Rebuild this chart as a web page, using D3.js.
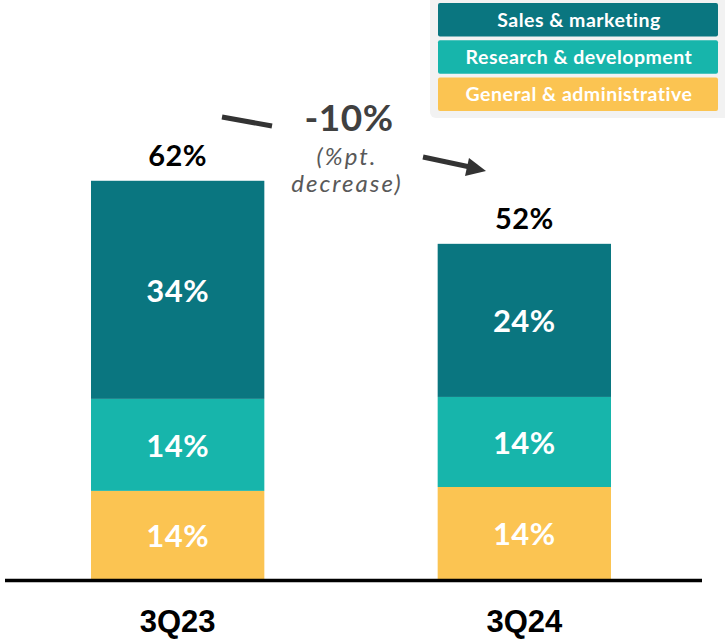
<!DOCTYPE html>
<html>
<head>
<meta charset="utf-8">
<script src="https://cdn.jsdelivr.net/npm/d3@7"></script>
<style>
  body { margin: 0; background: #fff; }
  svg { display: block; font-family: "Century Gothic", "Lato", sans-serif; }
</style>
</head>
<body>
<svg width="725" height="641"></svg>
<script>
// data
var quarters = ["3Q23", "3Q24"];
var seriesNames = ["General & administrative", "Research & development", "Sales & marketing"];
var gaValues = [13.7, 14.3];
var rdValues = [14.3, 14.0];
var smValues = [33.9, 23.8];
var totalLabels = ["62%", "52%"];
var gaLabels = ["14%", "14%"];
var rdLabels = ["14%", "14%"];
var smLabels = ["34%", "24%"];
var colors = ["#fbc452", "#17b5ab", "#0a7680"];

var svg = d3.select("svg");

var rows = quarters.map(function(q, i) {
  return { q: q, ga: gaValues[i], rd: rdValues[i], sm: smValues[i] };
});
var keys = ["ga", "rd", "sm"];
var labelSets = { ga: gaLabels, rd: rdLabels, sm: smLabels };

var x = d3.scaleBand().domain(quarters).range([91, 611]).paddingInner(0.5).paddingOuter(0);
var y = d3.scaleLinear().domain([0, 90]).range([579, 0]);

var stack = d3.stack().keys(keys)(rows);

var layer = svg.append("g").selectAll("g")
  .data(stack)
  .enter().append("g")
  .attr("fill", function(d, i) { return colors[i]; });

layer.selectAll("rect")
  .data(function(d) { return d; })
  .enter().append("rect")
  .attr("x", function(d) { return x(d.data.q); })
  .attr("y", function(d) { return y(d[1]); })
  .attr("width", x.bandwidth())
  .attr("height", function(d) { return y(d[0]) - y(d[1]); });

// segment labels
stack.forEach(function(s) {
  svg.append("g").selectAll("text")
    .data(s)
    .enter().append("text")
    .attr("x", function(d) { return x(d.data.q) + x.bandwidth() / 2; })
    .attr("y", function(d) { return (y(d[0]) + y(d[1])) / 2 + 12; })
    .attr("text-anchor", "middle")
    .attr("fill", "#fff")
    .attr("font-weight", "bold")
    .attr("font-size", 31)
    .attr("letter-spacing", 0.5)
    .text(function(d, i) { return labelSets[s.key][i]; });
});

// totals
svg.append("g").selectAll("text")
  .data(rows)
  .enter().append("text")
  .attr("x", function(d) { return x(d.q) + x.bandwidth() / 2; })
  .attr("y", function(d) { return y(d.ga + d.rd + d.sm) - 15; })
  .attr("text-anchor", "middle")
  .attr("fill", "#000")
  .attr("font-weight", "bold")
  .attr("font-size", 29)
  .attr("letter-spacing", 0.5)
  .text(function(d, i) { return totalLabels[i]; });

// baseline
svg.append("line")
  .attr("x1", 5).attr("x2", 702)
  .attr("y1", y(0) + 1.5).attr("y2", y(0) + 1.5)
  .attr("stroke", "#000")
  .attr("stroke-width", 3.5);

// category labels
svg.append("g").selectAll("text")
  .data(quarters)
  .enter().append("text")
  .attr("x", function(d) { return x(d) + x.bandwidth() / 2; })
  .attr("y", 632)
  .attr("text-anchor", "middle")
  .attr("font-family", "'Liberation Sans Narrow', 'Arial Narrow', sans-serif")
  .attr("font-weight", "bold")
  .attr("font-size", 31)
  .attr("fill", "#000")
  .text(function(d) { return d; });

// change annotation
var ann = svg.append("g");
ann.append("line")
  .attr("x1", 222).attr("y1", 117).attr("x2", 272).attr("y2", 126)
  .attr("stroke", "#333").attr("stroke-width", 5);
ann.append("line")
  .attr("x1", 423).attr("y1", 157).attr("x2", 470).attr("y2", 167)
  .attr("stroke", "#333").attr("stroke-width", 5);
ann.append("path")
  .attr("d", "M486,171 L465,176 L469,158 Z")
  .attr("fill", "#333");
ann.append("text")
  .attr("x", 349).attr("y", 131)
  .attr("text-anchor", "middle")
  .attr("font-weight", "bold")
  .attr("font-size", 37)
  .attr("letter-spacing", 0.5)
  .attr("fill", "#404040")
  .text("-10%");
ann.append("text")
  .attr("x", 347).attr("y", 165)
  .attr("text-anchor", "middle")
  .attr("font-style", "italic")
  .attr("font-size", 24)
  .attr("letter-spacing", 2)
  .attr("fill", "#595959")
  .text("(%pt.");
ann.append("text")
  .attr("x", 347).attr("y", 192)
  .attr("text-anchor", "middle")
  .attr("font-style", "italic")
  .attr("font-size", 24)
  .attr("letter-spacing", 2)
  .attr("fill", "#595959")
  .text("decrease)");

// legend
var legend = svg.append("g");
legend.append("rect")
  .attr("x", 430).attr("y", -8).attr("width", 300).attr("height", 126)
  .attr("rx", 6)
  .attr("fill", "#f2f2f2");

var legendItems = seriesNames.slice().reverse();
var legendColors = colors.slice().reverse();
var ly = d3.scaleBand().domain(legendItems).range([3, 111]).paddingInner(0.1);

legend.selectAll("rect.item")
  .data(legendItems)
  .enter().append("rect")
  .attr("class", "item")
  .attr("x", 438).attr("width", 280)
  .attr("y", function(d) { return ly(d); })
  .attr("height", ly.bandwidth())
  .attr("rx", 2)
  .attr("fill", function(d, i) { return legendColors[i]; });

legend.selectAll("text")
  .data(legendItems)
  .enter().append("text")
  .attr("x", 579)
  .attr("y", function(d) { return ly(d) + ly.bandwidth() / 2 + 7; })
  .attr("text-anchor", "middle")
  .attr("fill", "#fff")
  .attr("font-weight", "bold")
  .attr("font-size", 19.5)
  .attr("letter-spacing", 0.5)
  .text(function(d) { return d; });
</script>
</body>
</html>
